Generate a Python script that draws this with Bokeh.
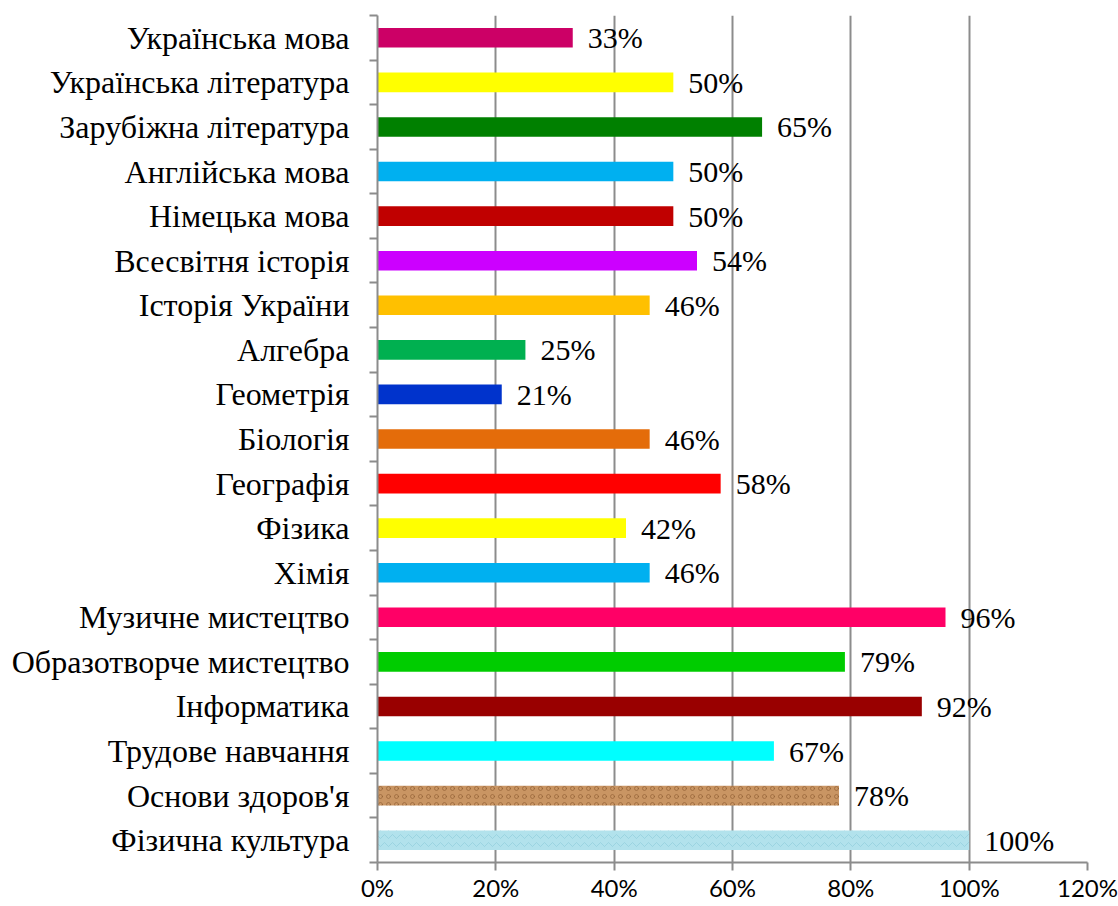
from bokeh.plotting import figure
from bokeh.models import (ColumnDataSource, Range1d, LinearAxis,
                          FixedTicker, NumeralTickFormatter)
from bokeh.core.properties import value
from bokeh.embed import file_html
from bokeh.resources import INLINE

# ---- data (top to bottom as in the picture) ----
subjects = [
    "Українська мова", "Українська література", "Зарубіжна література",
    "Англійська мова", "Німецька мова", "Всесвітня історія",
    "Історія України", "Алгебра", "Геометрія", "Біологія", "Географія",
    "Фізика", "Хімія", "Музичне мистецтво", "Образотворче мистецтво",
    "Інформатика", "Трудове навчання", "Основи здоров'я", "Фізична культура",
]
percents = [33, 50, 65, 50, 50, 54, 46, 25, 21, 46, 58, 42, 46, 96, 79, 92, 67, 78, 100]
x_ticks = [0, 0.2, 0.4, 0.6, 0.8, 1.0, 1.2]

# ---- styles ----
bar_colors = [
    "#CC0066", "#FFFF00", "#008000", "#00B0F0", "#C00000", "#CC00FF",
    "#FFC000", "#00B050", "#0033CC", "#E46C0A", "#FF0000", "#FFFF00",
    "#00B0F0", "#FF0066", "#00CC00", "#990000", "#00FFFF", "#C99563", "#B2E2EC",
]
hatches = [" "] * 17 + ["ring", "horizontal_wave"]
hatch_colors = ["#ffffff"] * 17 + ["#7A4A22", "#7EC3D3"]

n = len(subjects)
slot = [n - i - 0.5 for i in range(n)]  # category slot centres, first item on top
bounds = list(range(n + 1))             # category slot boundaries

src = ColumnDataSource(dict(
    y=slot,
    cat=subjects,
    val=[v / 100 for v in percents],
    label=[f"{v}%" for v in percents],
    color=bar_colors,
    hatch=hatches,
    hcolor=hatch_colors,
))

GRAY = "#8c8c8c"

p = figure(
    width=1118, height=906,
    y_range=Range1d(0, n),
    x_range=Range1d(0, 1.2),
    y_axis_location=None,
    output_backend="svg", toolbar_location=None,
    min_border_left=377, min_border_right=31,
    min_border_top=15, min_border_bottom=44,
)
p.outline_line_color = None
p.background_fill_color = "white"
p.border_fill_color = "white"

# x axis
xax = p.xaxis[0]
xax.ticker = FixedTicker(ticks=x_ticks)
xax.formatter = NumeralTickFormatter(format="0%")
xax.axis_line_color = GRAY
xax.axis_line_width = 2
xax.major_tick_line_color = GRAY
xax.major_tick_line_width = 2
xax.major_tick_out = 8
xax.major_tick_in = 0
xax.minor_tick_line_color = None
xax.major_label_text_font = "Lato"
xax.major_label_text_font_size = "24px"
xax.major_label_text_color = "#000000"
xax.major_label_standoff = 2

p.xgrid.ticker = FixedTicker(ticks=x_ticks[1:])
p.xgrid.grid_line_color = GRAY
p.xgrid.grid_line_width = 2
p.ygrid.grid_line_color = None

# left axis: names at slot centres, small tick marks at slot boundaries
cat_axis = LinearAxis(
    ticker=FixedTicker(ticks=slot, minor_ticks=bounds),
    major_label_overrides={s: name for s, name in zip(slot, subjects)},
    axis_line_color=GRAY, axis_line_width=2,
    major_tick_line_color=None,
    major_tick_out=0, major_tick_in=0,
    minor_tick_line_color=GRAY, minor_tick_line_width=2,
    minor_tick_out=8, minor_tick_in=0,
    major_label_standoff=20,
    major_label_text_font="Liberation Serif",
    major_label_text_font_size="32px",
    major_label_text_color="#000000",
)
p.add_layout(cat_axis, "left")

p.hbar(y="y", left=0, right="val", height=0.44, source=src,
       fill_color="color", line_color=None,
       hatch_pattern="hatch", hatch_color="hcolor", hatch_alpha=0.45, hatch_scale=8)

p.text(x="val", y="y", text="label", source=src,
       x_offset=15, text_baseline="middle", text_align="left",
       text_font=value("Liberation Serif"), text_font_size="30px",
       text_color="#000000")

open("out.html", "w").write(file_html(p, INLINE))
